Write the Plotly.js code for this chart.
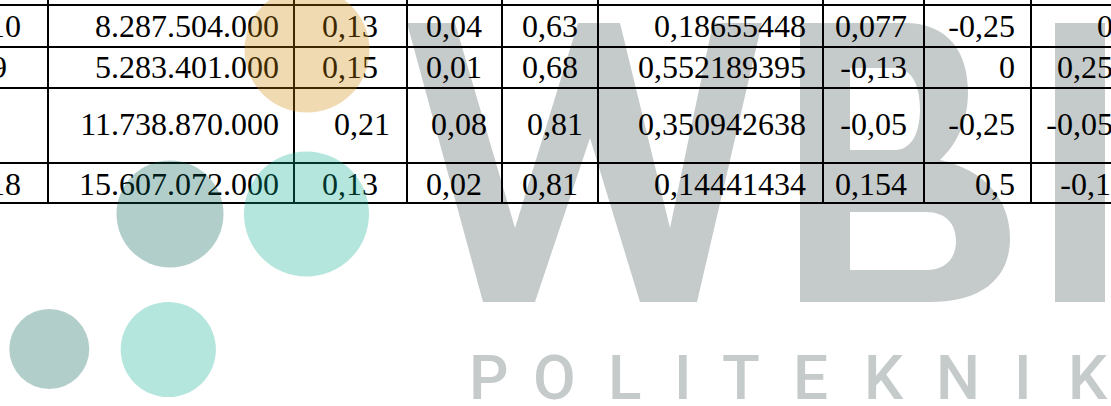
<!DOCTYPE html>
<html><head><meta charset="utf-8">
<script src="https://cdn.plot.ly/plotly-3.0.1.min.js"></script>
<style>html,body{margin:0;padding:0;background:#fff;overflow:hidden}#chart{width:1111px;height:406px}</style>
</head><body><div id="chart"></div>
<script>
// ---------------- data ----------------
const rowLabel = ["10", "9", "", "18"];                       // first column, cut at the left edge
const nominal  = [8287504000, 5283401000, 11738870000, 15607072000];
const colC = [0.13, 0.15, 0.21, 0.13];
const colD = [0.04, 0.01, 0.08, 0.02];
const colE = [0.63, 0.68, 0.81, 0.81];
const colF = [0.18655448, 0.552189395, 0.350942638, 0.14441434];
const colG = [0.077, -0.13, -0.05, 0.154];
const colH = [-0.25, 0, -0.25, 0.5];
const colI = [0, 0.25, -0.05, -0.15];                          // last column, cut at the right edge
const watermarkWord = ["P","O","L","I","T","E","K","N","I","K"];

// ---------------- formatting (Indonesian style) ----------------
function fmtInt(v){ return String(Math.round(v)).replace(/\B(?=(\d{3})+(?!\d))/g, "."); }
function fmtDec(v){ return String(v).replace(".", ","); }
function fmtStr(v){ return v; }

// ---------------- geometry / style ----------------
const W = 1111, H = 406;
const rowEdges = [5, 47, 88, 163, 203];
const colEdges = [48, 294, 407, 502, 598, 823, 924, 1031];
const rowMid = [29, 70, 127, 186.5];
const FONT = {family: "Liberation Serif, Times New Roman, serif", size: 32, color: "#000"};

const columns = [
  {vals: rowLabel, fmt: fmtStr, pos: "middle left",   x: 21,   nudge: [0, -14, 0, 0]},
  {vals: nominal,  fmt: fmtInt, pos: "middle left",   x: 279,  nudge: [0, 0, 0, 0]},
  {vals: colC,     fmt: fmtDec, pos: "middle center", x: 350,  nudge: [0, 0, 12, 0]},
  {vals: colD,     fmt: fmtDec, pos: "middle center", x: 454,  nudge: [0, 0, 5, 0]},
  {vals: colE,     fmt: fmtDec, pos: "middle center", x: 550,  nudge: [0, 0, 5, 0]},
  {vals: colF,     fmt: fmtDec, pos: "middle left",   x: 806,  nudge: [0, 0, 0, 0]},
  {vals: colG,     fmt: fmtDec, pos: "middle left",   x: 907,  nudge: [0, 0, 0, 0]},
  {vals: colH,     fmt: fmtDec, pos: "middle left",   x: 1015, nudge: [0, 0, 0, 0]},
  {vals: colI,     fmt: fmtDec, pos: "middle left",   x: 1113, nudge: [0, 0, 0, 14]}
];

const traces = columns.map(c => ({
  type: "scatter", mode: "text",
  x: c.vals.map((_, i) => c.x + c.nudge[i]),
  y: rowMid,
  text: c.vals.map(c.fmt),
  textposition: c.pos,
  textfont: FONT,
  hoverinfo: "skip", showlegend: false, cliponaxis: true
}));

const GRAY = "#C5CACA";
const shapes = [];
// watermark letters W, B, I (behind the table)
shapes.push({type: "path", layer: "below", xref: "x", yref: "y", line: {width: 0}, fillcolor: GRAY,
  path: "M407,23 L455,23 L515,228 L578,23 L620,23 L670,228 L713,23 L762,23 L697,302 L640,302 L590,138 L535,302 L483,302 Z"});
shapes.push({type: "path", layer: "below", xref: "x", yref: "y", line: {width: 0}, fillcolor: GRAY,
  path: "M800,23 L905,23 C948,23 968,52 968,92 C968,124 955,146 940,160 C985,170 1010,200 1010,238 C1010,280 980,302 930,302 L800,302 Z " +
        "M850,68 L850,150 L895,150 C912,150 920,132 920,109 C920,86 912,68 895,68 Z " +
        "M850,212 L850,270 L926,270 C946,270 956,258 956,241 C956,224 946,212 926,212 Z"});
shapes.push({type: "rect", layer: "below", xref: "x", yref: "y", line: {width: 0}, fillcolor: GRAY,
  x0: 1055, x1: 1105, y0: 23, y1: 302});

// table rules
rowEdges.forEach(y => shapes.push({type: "line", layer: "below", xref: "x", yref: "y",
  x0: 0, x1: W, y0: y, y1: y, line: {color: "#000", width: 2}}));
colEdges.forEach(x => shapes.push({type: "line", layer: "below", xref: "x", yref: "y",
  x0: x, x1: x, y0: 0, y1: rowEdges[rowEdges.length - 1], line: {color: "#000", width: 2}}));

// translucent logo dots (over the table)
function dot(cx, cy, r, color){
  shapes.push({type: "circle", layer: "above", xref: "x", yref: "y", x0: cx - r, x1: cx + r, y0: cy - r, y1: cy + r,
    fillcolor: color, opacity: 0.3, line: {width: 0}});
}
dot(307, 50, 62.5, "rgb(205,132,0)");
dot(306.5, 214, 62.5, "rgb(5,172,142)");
dot(170, 214, 53.5, "rgb(0,92,82)");
dot(168.3, 349.5, 47.6, "rgb(5,172,142)");
dot(49.3, 349, 40, "rgb(0,92,82)");

// POLITEKNIK letters
const letterX = [489, 554, 624.5, 682.5, 741, 810, 883.5, 958, 1022.5, 1088];
const annotations = watermarkWord.map((ch, i) => ({
  xref: "x", yref: "y", x: letterX[i], y: 377, text: ch, showarrow: false,
  xanchor: "center", yanchor: "middle",
  font: {family: "Roboto, Liberation Sans, Arial, sans-serif", size: 62, weight: 500, color: GRAY}
}));

const layout = {
  width: W, height: H,
  margin: {l: 0, r: 0, t: 0, b: 0, pad: 0},
  paper_bgcolor: "#fff", plot_bgcolor: "#fff",
  xaxis: {range: [0, W], visible: false, fixedrange: true},
  yaxis: {range: [H, 0], visible: false, fixedrange: true},
  shapes: shapes, annotations: annotations, showlegend: false
};

Plotly.newPlot("chart", traces, layout, {staticPlot: true, displayModeBar: false});
</script>
</body></html>
